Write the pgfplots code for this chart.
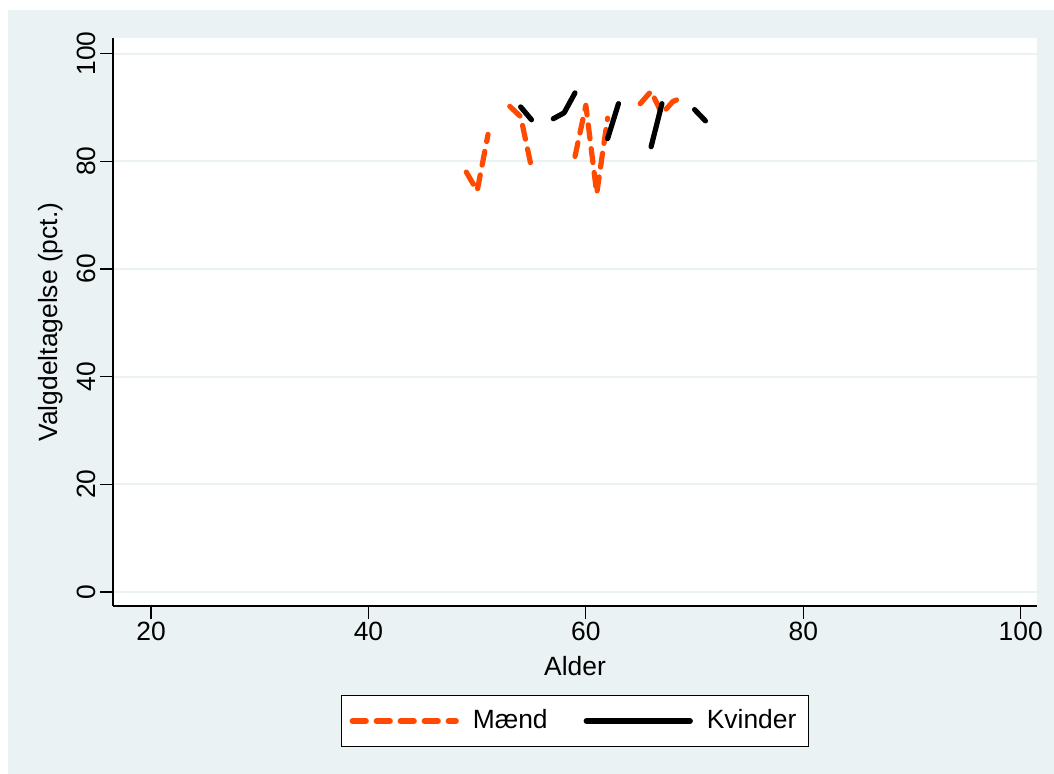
\documentclass[border=0pt]{standalone}
\usepackage{fontspec}
\setmainfont{Liberation Sans}
\usepackage{pgfplots}
\usepackage{pgfplotstable}
\pgfplotsset{compat=1.18}
\definecolor{bgc}{RGB}{234,242,243}
\definecolor{gridc}{RGB}{234,242,243}
\definecolor{morange}{RGB}{255,74,0}

\pgfplotstableread{
x y
49 78.0
50 74.5
51 85.0
52 nan
53 90.2
54 88.3
55 78.8
56 nan
59 80.9
60 90.4
61 74.0
62 88.0
63 nan
65 90.7
66 93.0
67 88.8
68 91.1
69 92.0
}\maend

\pgfplotstableread{
x y
54 90.1
55 87.7
56 nan
57 87.9
58 89.0
59 92.7
60 nan
62 84.2
63 90.7
64 nan
66 82.7
67 90.7
68 nan
70 89.6
71 87.5
}\kvinder

\begin{document}
\fontsize{13.2}{15}\selectfont
\begin{tikzpicture}
\path[use as bounding box] (0,0) rectangle (527pt,387pt);
\fill[bgc] (4pt,0) rectangle (527pt,382pt);
\begin{axis}[
  at={(56.5pt,84pt)}, anchor=south west,
  scale only axis, width=462pt, height=284pt,
  xmin=16.5, xmax=101.5, ymin=-2.6, ymax=102.9,
  axis background/.style={fill=white},
  axis x line*=bottom, axis y line*=left,
  axis line style={line width=0.7pt, -},
  xtick={20,40,60,80,100}, ytick={0,20,40,60,80,100},
  tick align=outside, major tick length=6.5pt,
  tick style={line width=0.6pt, black},
  ymajorgrids, major grid style={gridc, line width=1pt},
  /pgf/number format/assume math mode=true,
  ticklabel style={font=\fontsize{13.2}{15}\selectfont},
  yticklabel style={rotate=90, anchor=south, inner sep=2pt},
  xticklabel style={inner sep=1.5pt},
  xlabel={Alder}, ylabel={Valgdeltagelse (pct.)},
  label style={font=\fontsize{13.2}{15}\selectfont},
  xlabel style={at={(axis description cs:0.5,-0.1056)}, anchor=center},
  ylabel style={at={(axis description cs:-0.067,0.5)}, anchor=center},
  unbounded coords=jump,
  legend columns=2,
  legend style={at={(axis description cs:0.5,-0.1567)}, anchor=north,
    draw=black, line width=0.5pt, fill=white,
    font=\fontsize{13.2}{15}\selectfont,
    inner xsep=4pt, inner ysep=5pt,
    /tikz/every odd column/.append style={column sep=5pt},
    /tikz/every even column/.append style={column sep=16pt}},
  legend image code/.code={\draw[#1] (0pt,0pt) -- (52pt,0pt);},
]
\addplot[morange, line width=2.6pt, line cap=round, line join=round, dash pattern=on 7pt off 5pt] table[x=x,y=y] {\maend};
\addlegendentry{Mænd}
\addplot[black, line width=2.6pt, line cap=round, line join=round] table[x=x,y=y] {\kvinder};
\addlegendentry{Kvinder}
\end{axis}
\end{tikzpicture}
\end{document}
